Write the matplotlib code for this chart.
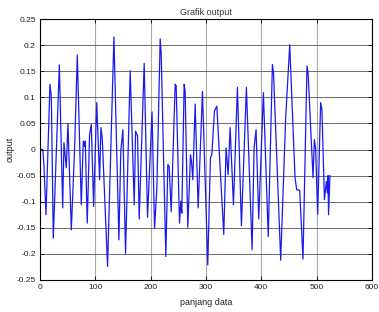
"""
Grafik output - sinyal keluaran terhadap panjang data
"""

import matplotlib
matplotlib.use('Agg')
import matplotlib.pyplot as plt

plt.rcParams['font.family'] = ['Liberation Sans', 'DejaVu Sans']
plt.rcParams['axes.unicode_minus'] = False

# titik-titik puncak/lembah yang dibaca dari gambar
x_data = [1, 5, 7.2, 10.8, 18, 20.5, 24, 35, 41, 43.3, 47.5, 50.5, 56.6, 62.6,
          67.4, 74.6, 78.2, 80.6, 81.8, 85.4, 89.6, 92.7, 96.9, 102.5, 107.7,
          110.1, 112.5, 122.1, 133.6, 142.6, 146, 149.8, 154.6, 163, 170.3,
          172.7, 176.3, 179.3, 188.3, 194.3, 202.5, 207, 211.2, 217.2, 219,
          227.4, 231, 233.4, 237.1, 244.3, 246.1, 252.1, 254.5, 256.3, 260.5,
          262.3, 267.1, 272, 273.8, 276.2, 280.4, 285.8, 293.6, 303.2, 308,
          310.5, 315.3, 319.5, 332.1, 336.3, 340, 343.6, 349.6, 356.8, 364,
          373, 383.3, 386.9, 390.5, 395.3, 403.7, 412.5, 420, 422, 435, 444,
          451.3, 460.9, 463.9, 469.3, 475.3, 482.5, 484.5, 493.4, 495.8, 498,
          501.8, 507.2, 509.5, 514, 517.5, 519.3, 520.5, 521.5, 524]
y_data = [0.0, 0.0, -0.032, -0.125, 0.125, 0.1, -0.170, 0.162, -0.112, 0.013,
          -0.035, 0.050, -0.154, 0.003, 0.181, -0.106, 0.016, 0.006, 0.016,
          -0.141, 0.029, 0.048, -0.109, 0.09, -0.058, 0.042, 0.022, -0.224,
          0.216, -0.173, -0.003, 0.038, -0.199, 0.151, -0.106, 0.035, 0.026,
          -0.133, 0.165, -0.130, 0.072, -0.151, -0.074, 0.212, 0.183, -0.205,
          -0.029, -0.032, -0.119, 0.125, 0.122, -0.141, -0.099, -0.122, 0.125,
          0.112, -0.149, -0.010, -0.023, -0.058, 0.087, -0.112, 0.111, -0.221,
          -0.016, -0.010, 0.074, 0.083, -0.163, 0.003, -0.048, 0.042, -0.106,
          0.119, -0.146, 0.119, -0.192, 0.003, 0.038, -0.133, 0.109, -0.167,
          0.163, 0.147, -0.212, 0.061, 0.201, -0.054, -0.077, -0.078, -0.210,
          0.160, 0.147, -0.054, 0.019, 0.003, -0.124, 0.090, 0.077, -0.096,
          -0.061, -0.083, -0.050, -0.125, -0.050]

x_ticks = [0, 100, 200, 300, 400, 500, 600]
y_ticks = [-0.25, -0.2, -0.15, -0.1, -0.05, 0, 0.05, 0.1, 0.15, 0.2, 0.25]
y_ticklabels = ['-0.25', '-0.2', '-0.15', '-0.1', '-0.05', '0',
                '0.05', '0.1', '0.15', '0.2', '0.25']

fig = plt.figure(figsize=(3.79, 3.12), dpi=100)
ax = fig.add_axes([40 / 379, 1 - 280 / 312, 332 / 379, 261 / 312])

ax.plot(x_data, y_data, color='#1a1aee', linewidth=0.9)

ax.set_xlim(0, 600)
ax.set_ylim(-0.25, 0.25)
ax.set_xticks(x_ticks)
ax.set_xticklabels([str(t) for t in x_ticks])
ax.set_yticks(y_ticks)
ax.set_yticklabels(y_ticklabels)

# grid ala MATLAB
ax.yaxis.grid(True, color='#555555', linewidth=0.6)
ax.xaxis.grid(True, color='#aaaaaa', linewidth=0.8)
ax.set_axisbelow(True)

ax.tick_params(direction='in', top=True, right=True, length=3, width=0.6,
               labelsize=6, pad=3, labelcolor='#222222')
for s in ax.spines.values():
    s.set_linewidth(0.8)

ax.set_title('Grafik output', fontsize=6.5, pad=3, color='#333333')
ax.set_xlabel('panjang data', fontsize=6.5, labelpad=5, color='#222222')
ax.set_ylabel('output', fontsize=6.5, labelpad=1, color='#222222')

fig.savefig('out.png', dpi=100)
